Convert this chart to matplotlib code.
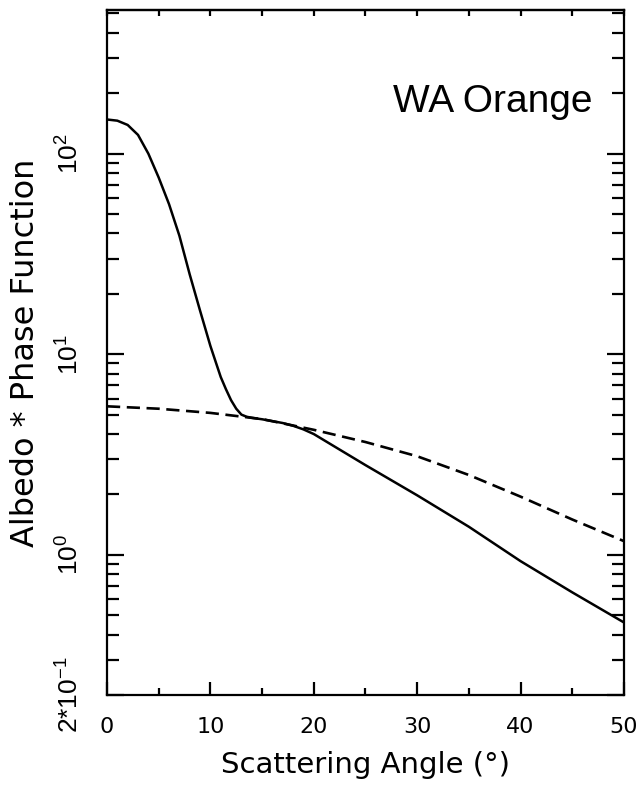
import matplotlib.pyplot as plt
from matplotlib.ticker import FixedLocator, FixedFormatter, NullFormatter

# values
angle_solid = [0, 1, 2, 3, 4, 5, 6, 7, 8, 9, 10, 10.5, 11, 11.5, 12, 12.5,
               13, 13.5, 14, 15, 16, 17, 18, 19, 20, 25, 30, 35, 40, 45, 50]
phase_solid = [148, 146, 139, 124, 100, 76, 56, 39, 25, 16.5, 11, 9.2, 7.7,
               6.7, 5.9, 5.35, 5.0, 4.88, 4.82, 4.74, 4.64, 4.54, 4.4, 4.22,
               4.0, 2.8, 1.98, 1.38, 0.93, 0.65, 0.46]

angle_dashed = [0, 5, 10, 15, 20, 25, 30, 35, 40, 45, 50]
phase_dashed = [5.5, 5.35, 5.1, 4.75, 4.2, 3.65, 3.1, 2.5, 1.95, 1.5, 1.17]

y_major = [0.2, 1, 10, 100]
y_major_labels = [r"$\mathregular{2{*}10^{-1}}$", r"$\mathregular{10^{0}}$",
                  r"$\mathregular{10^{1}}$", r"$\mathregular{10^{2}}$"]
y_minor = [0.3, 0.4, 0.5, 0.6, 0.7, 0.8, 0.9,
           2, 3, 4, 5, 6, 7, 8, 9,
           20, 30, 40, 50, 60, 70, 80, 90,
           200, 300, 400, 500]
x_major = [0, 10, 20, 30, 40, 50]
x_minor = [5, 15, 25, 35, 45]
x_top = [0, 5, 10, 15, 20, 25, 30, 35, 40, 45, 50]


def main():
    fig = plt.figure(figsize=(6.43, 7.89), dpi=100)
    ax = fig.add_axes([0.1664, 0.1191, 0.804, 0.8682])

    ax.plot(angle_solid, phase_solid, color="black", lw=1.8)
    ax.plot(angle_dashed, phase_dashed, color="black", lw=1.9,
            linestyle=(0, (5, 2.5)))

    ax.set_yscale("log")
    ax.set_xlim(0, 50)
    ax.set_ylim(0.2, 520)

    for side in ax.spines.values():
        side.set_linewidth(1.6)

    # y axis: rotated labels, ticks on both sides
    ax.yaxis.set_major_locator(FixedLocator(y_major))
    ax.yaxis.set_major_formatter(FixedFormatter(y_major_labels))
    ax.yaxis.set_minor_locator(FixedLocator(y_minor))
    ax.yaxis.set_minor_formatter(NullFormatter())
    ax.tick_params(axis="y", which="both", direction="in", left=True,
                   right=True, width=1.6)
    ax.tick_params(axis="y", which="major", length=12, pad=17,
                   labelsize=19, labelrotation=90,
                   labelfontfamily="Liberation Sans")
    ax.tick_params(axis="y", which="minor", length=8.5)
    for lab in ax.get_yticklabels():
        lab.set_verticalalignment("center")

    # x axis
    ax.xaxis.set_major_locator(FixedLocator(x_major))
    ax.xaxis.set_minor_locator(FixedLocator(x_minor))
    ax.tick_params(axis="x", which="both", direction="in", top=False,
                   width=1.6, labelsize=16, pad=16)
    ax.tick_params(axis="x", which="major", length=9.5)
    ax.tick_params(axis="x", which="minor", length=5)

    top = ax.secondary_xaxis("top")
    top.set_xticks(x_top)
    top.tick_params(direction="in", length=4, width=1.6, labeltop=False)
    top.spines["top"].set_linewidth(1.6)

    ax.set_xlabel("Scattering Angle (°)", fontsize=21, labelpad=10)
    ax.set_ylabel("Albedo * Phase Function", fontsize=23, labelpad=11)

    ax.text(0.553, 0.851, "WA Orange", transform=ax.transAxes,
            fontsize=28, family="Liberation Sans", ha="left", va="baseline")

    fig.savefig("out.png", dpi=100)


if __name__ == "__main__":
    main()
